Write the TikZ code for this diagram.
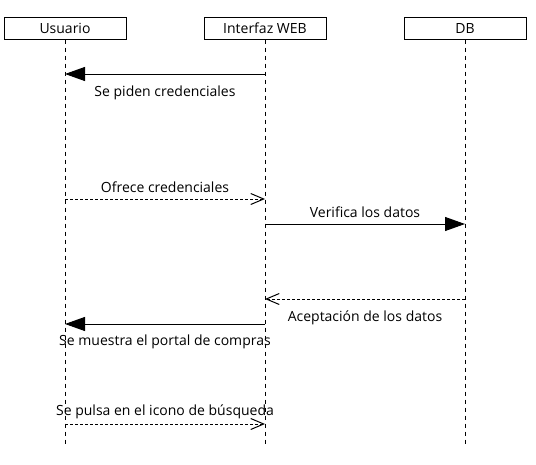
\documentclass[tikz,border=0pt]{standalone}
\usepackage{fontspec}
\setmainfont{Open Sans}
\usetikzlibrary{arrows.meta}

\begin{document}
\begin{tikzpicture}[x=1pt,y=-1pt,line width=1pt,font=\fontsize{14}{16}\selectfont,
    actor/.style={draw, minimum width=122pt, minimum height=22pt, inner sep=0pt},
    lifeline/.style={dash pattern=on 4pt off 4pt},
    call/.style={-{Triangle[length=20pt,width=14pt]}},
    reply/.style={dash pattern=on 3pt off 2pt,-{Straight Barb[length=13pt,width=11pt]}}]
      \useasboundingbox (0,0) rectangle (536,464);
      % Actors
        \node[actor] (usr) at (65, 28) {Usuario};
        \node[actor] (web) at (265, 28) {Interfaz WEB};
        \node[actor] (db) at (465, 28) {DB};

        % Lifelines
        \coordinate (usr end) at (65, 444);
        \coordinate (web end) at (265, 444);
        \coordinate (db end) at (465, 444);
        \draw [lifeline] (usr) -- (usr end);
        \draw [lifeline] (web) -- (web end);
        \draw [lifeline] (db) -- (db end);

        % Message points
        \coordinate (u1) at (65, 74);   \coordinate (w1) at (265, 74);
        \coordinate (u2) at (65, 199);  \coordinate (w2) at (265, 199);
        \coordinate (w3) at (265, 224); \coordinate (d3) at (465, 224);
        \coordinate (w4) at (265, 299); \coordinate (d4) at (465, 299);
        \coordinate (u5) at (65, 324);  \coordinate (w5) at (265, 324);
        \coordinate (u6) at (65, 424);  \coordinate (w6) at (265, 424);

        % Messages
        \draw [call] (w1) -- node[below=8pt] {Se piden credenciales} (u1);
        \draw [reply] (u2) -- node[above=3pt] {Ofrece credenciales} (w2);
        \draw [call] (w3) -- node[above=3pt] {Verifica los datos} (d3);
        \draw [reply] (d4) -- node[below=8pt] {Aceptación de los datos} (w4);
        \draw [call] (w5) -- node[below=7pt] {Se muestra el portal de compras} (u5);
        \draw [reply] (u6) -- node[above=1pt] {Se pulsa en el icono de búsqueda} (w6);

    \end{tikzpicture}
\end{document}
